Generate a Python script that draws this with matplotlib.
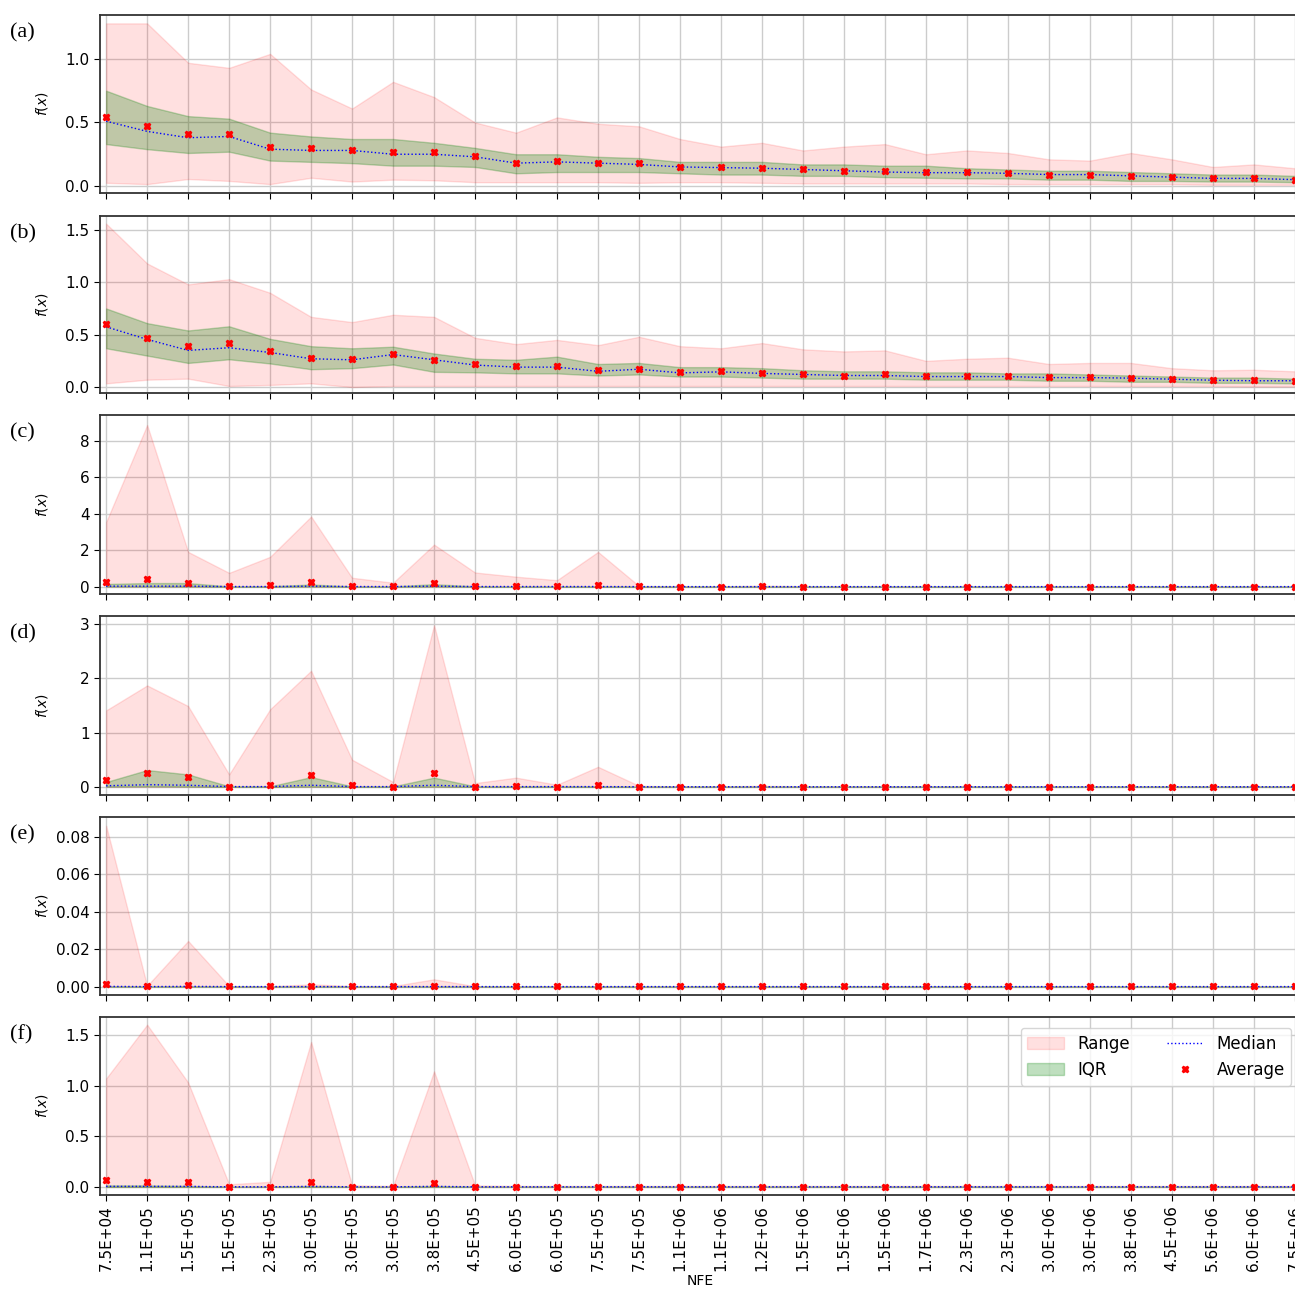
import matplotlib
matplotlib.use("Agg")
import matplotlib.pyplot as plt
from matplotlib.patches import Patch
from matplotlib.lines import Line2D

nfe_labels = ["7.5E+04", "1.1E+05", "1.5E+05", "1.5E+05", "2.3E+05", "3.0E+05", "3.0E+05", "3.0E+05",
              "3.8E+05", "4.5E+05", "6.0E+05", "6.0E+05", "7.5E+05", "7.5E+05", "1.1E+06", "1.1E+06",
              "1.2E+06", "1.5E+06", "1.5E+06", "1.5E+06", "1.7E+06", "2.3E+06", "2.3E+06", "3.0E+06",
              "3.0E+06", "3.8E+06", "4.5E+06", "5.6E+06", "6.0E+06", "7.5E+06"]

# (a)
a_max = [1.28, 1.28, 0.97, 0.93, 1.04, 0.76, 0.61, 0.82, 0.70, 0.50, 0.42, 0.54, 0.49, 0.47, 0.37,
         0.31, 0.34, 0.28, 0.31, 0.33, 0.25, 0.28, 0.26, 0.21, 0.20, 0.26, 0.21, 0.15, 0.17, 0.14]
a_min = [0.025, 0.015, 0.055, 0.04, 0.015, 0.065, 0.035, 0.05, 0.045, 0.03, 0.03, 0.03, 0.03, 0.025, 0.03,
         0.03, 0.025, 0.02, 0.02, 0.02, 0.02, 0.02, 0.015, 0.015, 0.015, 0.015, 0.015, 0.01, 0.01, 0.01]
a_q3 = [0.75, 0.63, 0.55, 0.53, 0.42, 0.39, 0.37, 0.37, 0.34, 0.30, 0.25, 0.25, 0.23, 0.22, 0.19,
        0.19, 0.19, 0.17, 0.17, 0.16, 0.16, 0.14, 0.13, 0.12, 0.12, 0.11, 0.10, 0.09, 0.09, 0.08]
a_q1 = [0.33, 0.29, 0.26, 0.27, 0.20, 0.19, 0.18, 0.16, 0.16, 0.15, 0.10, 0.11, 0.11, 0.11, 0.10,
        0.09, 0.09, 0.08, 0.08, 0.07, 0.065, 0.06, 0.06, 0.05, 0.05, 0.04, 0.04, 0.035, 0.035, 0.03]
a_med = [0.51, 0.43, 0.38, 0.39, 0.29, 0.28, 0.28, 0.25, 0.25, 0.23, 0.18, 0.19, 0.18, 0.17, 0.15,
         0.145, 0.14, 0.13, 0.12, 0.11, 0.105, 0.105, 0.10, 0.09, 0.09, 0.08, 0.07, 0.06, 0.06, 0.05]
a_avg = [0.54, 0.47, 0.41, 0.41, 0.31, 0.30, 0.28, 0.27, 0.27, 0.24, 0.18, 0.20, 0.18, 0.18, 0.15,
         0.15, 0.14, 0.13, 0.12, 0.12, 0.11, 0.11, 0.10, 0.09, 0.09, 0.08, 0.07, 0.06, 0.065, 0.05]

# (b)
b_max = [1.56, 1.18, 0.98, 1.03, 0.90, 0.67, 0.62, 0.69, 0.67, 0.47, 0.41, 0.45, 0.40, 0.48, 0.39,
         0.37, 0.42, 0.36, 0.34, 0.35, 0.25, 0.27, 0.28, 0.22, 0.23, 0.23, 0.18, 0.16, 0.165, 0.15]
b_min = [0.035, 0.07, 0.08, 0.01, 0.02, 0.035, 0.0, 0.01, 0.01, 0.01, 0.01, 0.01, 0.01, 0.01, 0.01,
         0.01, 0.01, 0.01, 0.01, 0.01, 0.01, 0.01, 0.01, 0.01, 0.01, 0.01, 0.01, 0.01, 0.005, 0.005]
b_q3 = [0.75, 0.61, 0.54, 0.58, 0.46, 0.39, 0.37, 0.385, 0.32, 0.27, 0.26, 0.29, 0.22, 0.23, 0.19,
        0.19, 0.18, 0.16, 0.15, 0.15, 0.14, 0.14, 0.13, 0.13, 0.12, 0.11, 0.10, 0.09, 0.09, 0.08]
b_q1 = [0.37, 0.30, 0.23, 0.265, 0.225, 0.17, 0.18, 0.215, 0.145, 0.14, 0.13, 0.13, 0.11, 0.12, 0.10,
        0.10, 0.09, 0.08, 0.08, 0.08, 0.07, 0.07, 0.07, 0.06, 0.06, 0.05, 0.05, 0.04, 0.04, 0.035]
b_med = [0.575, 0.455, 0.35, 0.375, 0.33, 0.27, 0.26, 0.31, 0.26, 0.21, 0.19, 0.19, 0.15, 0.17, 0.135,
         0.145, 0.13, 0.12, 0.11, 0.11, 0.10, 0.10, 0.10, 0.09, 0.09, 0.085, 0.075, 0.065, 0.06, 0.06]
b_avg = [0.60, 0.47, 0.39, 0.42, 0.34, 0.28, 0.27, 0.315, 0.26, 0.22, 0.20, 0.20, 0.16, 0.17, 0.14,
         0.15, 0.13, 0.12, 0.105, 0.125, 0.11, 0.11, 0.105, 0.10, 0.095, 0.085, 0.075, 0.07, 0.065, 0.06]

# (c)
c_max = [3.55, 8.87, 1.91, 0.76, 1.64, 3.85, 0.49, 0.22, 2.31, 0.78, 0.55, 0.36, 1.91, 0.04, 0.03,
         0.02, 0.06, 0.03, 0.02, 0.02, 0.02, 0.02, 0.02, 0.02, 0.02, 0.02, 0.02, 0.02, 0.02, 0.02]
c_min = [0.0, 0.0, 0.0, 0.0, 0.0, 0.0, 0.0, 0.0, 0.0, 0.0, 0.0, 0.0, 0.0, 0.0, 0.0,
         0.0, 0.0, 0.0, 0.0, 0.0, 0.0, 0.0, 0.0, 0.0, 0.0, 0.0, 0.0, 0.0, 0.0, 0.0]
c_q3 = [0.15, 0.20, 0.20, 0.02, 0.03, 0.12, 0.02, 0.02, 0.14, 0.02, 0.01, 0.01, 0.02, 0.01, 0.01,
        0.01, 0.01, 0.01, 0.01, 0.01, 0.01, 0.01, 0.01, 0.01, 0.01, 0.01, 0.01, 0.01, 0.01, 0.01]
c_q1 = [0.01, 0.01, 0.01, 0.0, 0.0, 0.01, 0.0, 0.0, 0.01, 0.0, 0.0, 0.0, 0.0, 0.0, 0.0,
        0.0, 0.0, 0.0, 0.0, 0.0, 0.0, 0.0, 0.0, 0.0, 0.0, 0.0, 0.0, 0.0, 0.0, 0.0]
c_med = [0.03, 0.03, 0.03, 0.01, 0.01, 0.03, 0.01, 0.01, 0.03, 0.01, 0.01, 0.01, 0.01, 0.005, 0.005,
         0.005, 0.005, 0.005, 0.005, 0.005, 0.005, 0.005, 0.005, 0.005, 0.005, 0.005, 0.005, 0.005, 0.005, 0.005]
c_avg = [0.24, 0.40, 0.22, 0.05, 0.09, 0.25, 0.05, 0.04, 0.22, 0.04, 0.03, 0.03, 0.09, 0.02, 0.01,
         0.01, 0.02, 0.01, 0.01, 0.01, 0.01, 0.01, 0.01, 0.01, 0.01, 0.01, 0.01, 0.01, 0.01, 0.01]

# (d)
d_max = [1.41, 1.87, 1.49, 0.23, 1.43, 2.14, 0.50, 0.09, 2.98, 0.07, 0.17, 0.04, 0.37, 0.02, 0.01,
         0.01, 0.02, 0.01, 0.01, 0.01, 0.01, 0.01, 0.01, 0.01, 0.01, 0.01, 0.01, 0.01, 0.01, 0.01]
d_min = [0.0, 0.0, 0.0, 0.0, 0.0, 0.0, 0.0, 0.0, 0.0, 0.0, 0.0, 0.0, 0.0, 0.0, 0.0,
         0.0, 0.0, 0.0, 0.0, 0.0, 0.0, 0.0, 0.0, 0.0, 0.0, 0.0, 0.0, 0.0, 0.0, 0.0]
d_q3 = [0.09, 0.31, 0.23, 0.01, 0.01, 0.18, 0.01, 0.01, 0.17, 0.01, 0.01, 0.01, 0.01, 0.005, 0.005,
        0.005, 0.005, 0.005, 0.005, 0.005, 0.005, 0.005, 0.005, 0.005, 0.005, 0.005, 0.005, 0.005, 0.005, 0.005]
d_q1 = [0.005, 0.01, 0.005, 0.0, 0.0, 0.005, 0.0, 0.0, 0.005, 0.0, 0.0, 0.0, 0.0, 0.0, 0.0,
        0.0, 0.0, 0.0, 0.0, 0.0, 0.0, 0.0, 0.0, 0.0, 0.0, 0.0, 0.0, 0.0, 0.0, 0.0]
d_med = [0.02, 0.04, 0.03, 0.005, 0.005, 0.03, 0.005, 0.005, 0.03, 0.005, 0.005, 0.005, 0.005, 0.002, 0.002,
         0.002, 0.002, 0.002, 0.002, 0.002, 0.002, 0.002, 0.002, 0.002, 0.002, 0.002, 0.002, 0.002, 0.002, 0.002]
d_avg = [0.12, 0.25, 0.18, 0.0, 0.03, 0.21, 0.03, 0.0, 0.25, 0.0, 0.01, 0.0, 0.03, 0.0, 0.0,
         0.0, 0.0, 0.0, 0.0, 0.0, 0.0, 0.0, 0.0, 0.0, 0.0, 0.0, 0.0, 0.0, 0.0, 0.0]

# (e)
e_max = [0.086, 0.0004, 0.0244, 0.0003, 0.0002, 0.0012, 0.0003, 0.0003, 0.0039, 0.0002, 0.0002, 0.0002,
         0.0002, 0.0002, 0.0002, 0.0002, 0.0002, 0.0002, 0.0002, 0.0002, 0.0002, 0.0002, 0.0002, 0.0002,
         0.0002, 0.0002, 0.0002, 0.0002, 0.0002, 0.0002]
e_min = [0.0, 0.0, 0.0, 0.0, 0.0, 0.0, 0.0, 0.0, 0.0, 0.0, 0.0, 0.0, 0.0, 0.0, 0.0,
         0.0, 0.0, 0.0, 0.0, 0.0, 0.0, 0.0, 0.0, 0.0, 0.0, 0.0, 0.0, 0.0, 0.0, 0.0]
e_q3 = [0.0002, 0.0001, 0.0002, 0.0001, 0.0001, 0.0001, 0.0001, 0.0001, 0.0001, 0.0001, 0.0001, 0.0001,
        0.0001, 0.0001, 0.0001, 0.0001, 0.0001, 0.0001, 0.0001, 0.0001, 0.0001, 0.0001, 0.0001, 0.0001,
        0.0001, 0.0001, 0.0001, 0.0001, 0.0001, 0.0001]
e_q1 = [0.0, 0.0, 0.0, 0.0, 0.0, 0.0, 0.0, 0.0, 0.0, 0.0, 0.0, 0.0, 0.0, 0.0, 0.0,
        0.0, 0.0, 0.0, 0.0, 0.0, 0.0, 0.0, 0.0, 0.0, 0.0, 0.0, 0.0, 0.0, 0.0, 0.0]
e_med = [0.0001, 0.0, 0.0001, 0.0, 0.0, 0.0, 0.0, 0.0, 0.0, 0.0, 0.0, 0.0, 0.0, 0.0, 0.0,
         0.0, 0.0, 0.0, 0.0, 0.0, 0.0, 0.0, 0.0, 0.0, 0.0, 0.0, 0.0, 0.0, 0.0, 0.0]
e_avg = [0.0012, 0.0001, 0.0007, 0.0001, 0.0001, 0.0001, 0.0001, 0.0001, 0.0002, 0.0001, 0.0001, 0.0001,
         0.0001, 0.0001, 0.0001, 0.0001, 0.0001, 0.0001, 0.0001, 0.0001, 0.0001, 0.0001, 0.0001, 0.0001,
         0.0001, 0.0001, 0.0001, 0.0001, 0.0001, 0.0001]

# (f)
f_max = [1.07, 1.60, 1.03, 0.026, 0.05, 1.43, 0.016, 0.01, 1.14, 0.015, 0.01, 0.01, 0.01, 0.01, 0.01,
         0.01, 0.01, 0.01, 0.01, 0.01, 0.01, 0.01, 0.01, 0.01, 0.01, 0.01, 0.01, 0.01, 0.01, 0.01]
f_min = [0.0, 0.0, 0.0, 0.0, 0.0, 0.0, 0.0, 0.0, 0.0, 0.0, 0.0, 0.0, 0.0, 0.0, 0.0,
         0.0, 0.0, 0.0, 0.0, 0.0, 0.0, 0.0, 0.0, 0.0, 0.0, 0.0, 0.0, 0.0, 0.0, 0.0]
f_q3 = [0.015, 0.015, 0.01, 0.002, 0.002, 0.01, 0.002, 0.002, 0.01, 0.002, 0.002, 0.002, 0.002, 0.002, 0.002,
        0.002, 0.002, 0.002, 0.002, 0.002, 0.002, 0.002, 0.002, 0.002, 0.002, 0.002, 0.002, 0.002, 0.002, 0.002]
f_q1 = [0.0, 0.0, 0.0, 0.0, 0.0, 0.0, 0.0, 0.0, 0.0, 0.0, 0.0, 0.0, 0.0, 0.0, 0.0,
        0.0, 0.0, 0.0, 0.0, 0.0, 0.0, 0.0, 0.0, 0.0, 0.0, 0.0, 0.0, 0.0, 0.0, 0.0]
f_med = [0.005, 0.005, 0.005, 0.001, 0.001, 0.005, 0.001, 0.001, 0.005, 0.001, 0.001, 0.001, 0.001, 0.001, 0.001,
         0.001, 0.001, 0.001, 0.001, 0.001, 0.001, 0.001, 0.001, 0.001, 0.001, 0.001, 0.001, 0.001, 0.001, 0.001]
f_avg = [0.065, 0.05, 0.05, 0.0, 0.0, 0.05, 0.0, 0.0, 0.043, 0.0, 0.0, 0.0, 0.0, 0.0, 0.0,
         0.0, 0.0, 0.0, 0.0, 0.0, 0.0, 0.0, 0.0, 0.0, 0.0, 0.0, 0.0, 0.0, 0.0, 0.0]

panels = [
    ("(a)", a_min, a_max, a_q1, a_q3, a_med, a_avg, (-0.055, 1.346), [0.0, 0.5, 1.0], "{:.1f}"),
    ("(b)", b_min, b_max, b_q1, b_q3, b_med, b_avg, (-0.057, 1.633), [0.0, 0.5, 1.0, 1.5], "{:.1f}"),
    ("(c)", c_min, c_max, c_q1, c_q3, c_med, c_avg, (-0.4, 9.42), [0, 2, 4, 6, 8], "{:.0f}"),
    ("(d)", d_min, d_max, d_q1, d_q3, d_med, d_avg, (-0.15, 3.15), [0, 1, 2, 3], "{:.0f}"),
    ("(e)", e_min, e_max, e_q1, e_q3, e_med, e_avg, (-0.0045, 0.0907), [0.0, 0.02, 0.04, 0.06, 0.08], "{:.2f}"),
    ("(f)", f_min, f_max, f_q1, f_q3, f_med, f_avg, (-0.08, 1.676), [0.0, 0.5, 1.0, 1.5], "{:.1f}"),
]

W, H = 1295, 1291
fig = plt.figure(figsize=(W / 100, H / 100), dpi=100)

tops = [15, 216, 415, 616, 817, 1017]
bottoms = [193, 393, 594, 795, 995, 1195]
left_px, right_px = 100, 1301

x = list(range(len(nfe_labels)))
axes = []
for k, (lab, lo, hi, q1, q3, med, avg, ylim, yt, fmt) in enumerate(panels):
    ax = fig.add_axes([left_px / W, 1 - bottoms[k] / H, (right_px - left_px) / W, (bottoms[k] - tops[k]) / H])
    ax.fill_between(x, lo, hi, color="red", alpha=0.12, lw=1, label="Range")
    ax.fill_between(x, q1, q3, color="green", alpha=0.25, lw=1, label="IQR")
    ax.plot(x, med, color="blue", ls=":", lw=1, label="Median")
    ax.plot(x, avg, ls="none", marker="X", color="red", ms=5, label="Average")
    ax.set_xlim(-0.15, 29.15)
    ax.set_ylim(*ylim)
    ax.set_yticks(yt)
    ax.set_yticklabels([fmt.format(v) for v in yt])
    ax.set_xticks(x)
    ax.grid(True, color="#cccccc", lw=1)
    ax.set_axisbelow(True)
    ax.tick_params(labelsize=11, length=4)
    ax.set_ylabel("$f(x)$", fontsize=10)
    ax.yaxis.set_label_coords(-0.042, 0.5)
    for s in ax.spines.values():
        s.set_linewidth(1.3)
        s.set_color("#333333")
    if k < 5:
        ax.set_xticklabels([])
    else:
        ax.set_xticklabels(nfe_labels, rotation=90, fontsize=11)
        ax.set_xlabel("NFE", fontsize=10, labelpad=2)
    fig.text(10 / W, 1 - (tops[k] + 18) / H, lab, fontsize=16, family="Liberation Serif", va="center")
    axes.append(ax)

handles = [Patch(facecolor="red", alpha=0.12, edgecolor="red"),
           Patch(facecolor="green", alpha=0.25, edgecolor="green"),
           Line2D([], [], color="blue", ls=":", lw=1),
           Line2D([], [], ls="none", marker="X", color="red", ms=5)]
axes[-1].legend(handles, ["Range", "IQR", "Median", "Average"], ncol=2, loc="upper right",
                fontsize=12, bbox_to_anchor=(0.999, 0.985), columnspacing=2.2, handlelength=2.2)

fig.savefig("out.png", dpi=100)
